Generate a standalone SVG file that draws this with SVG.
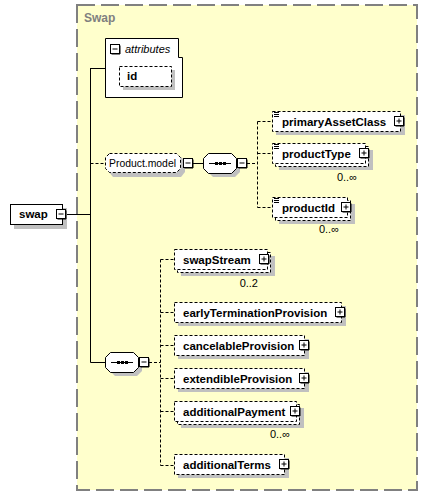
<svg xmlns="http://www.w3.org/2000/svg" width="428" height="496" viewBox="0 0 428 496">
<style>
.frame{fill:#FFFFCC;stroke:#808080;stroke-width:2;stroke-dasharray:18 6}
.sh{fill:#C0C0C0;stroke:none}
.box{fill:#FFFFFF;stroke:#000;stroke-width:1}
.opt{stroke-dasharray:3 2}
.ln{fill:none;stroke:#000;stroke-width:1}
.dl{fill:none;stroke:#000;stroke-width:1;stroke-dasharray:3 2}
.t{font-family:"Liberation Sans",Arial,sans-serif;font-size:11.5px;font-weight:bold;fill:#000}
.n{font-family:"Liberation Sans",Arial,sans-serif;font-size:11px;fill:#000}
.m{font-family:"Liberation Sans",Arial,sans-serif;font-size:11px;fill:#000;text-anchor:end}
.ic{fill:#FFFFFF;stroke:#000;stroke-width:1}
</style>
<defs>
<g id="plus"><rect x="0.5" y="0.5" width="9" height="9" class="ic"/><path d="M2.5 5H7.5M5 2.5V7.5" class="ln"/><path d="M10 1.5V10H1.5" class="ln"/></g>
<g id="minus"><rect x="0.5" y="0.5" width="9" height="9" class="ic"/><path d="M2.5 5H7.5" class="ln"/><path d="M10 1.5V10H1.5" class="ln"/></g>
<g id="lines"><path d="M0 0.5H5M0 2.5H5M0 4.5H5" class="ln"/></g>
</defs>

<g id="swap-frame">
<rect x="77" y="5" width="340" height="485" class="frame"/>
<text x="84" y="22" font-family="Liberation Sans,Arial,sans-serif" font-size="12" font-weight="bold" fill="#808080">Swap</text>
</g>

<g id="connectors">
<path d="M66 214.5H90.5M90.5 68V362.5M90.5 68.5H105M90.5 362.5H105" class="ln"/>
<path d="M90.5 163.5H105" class="dl"/>
<path d="M192 163.5H203" class="ln"/>
<path d="M247 163.5H257.5M257.5 121.5V207.5M257.5 121.5H272M257.5 153.5H272M257.5 207.5H272" class="dl"/>
<path d="M149 362.5H160.5M160.5 259.5V465.5M160.5 259.5H174M160.5 312.5H174M160.5 345.5H174M160.5 378.5H174M160.5 411.5H174M160.5 465.5H174" class="dl"/>
</g>

<g id="swap">
<rect x="14" y="208" width="53" height="21" class="sh"/>
<rect x="10.5" y="204.5" width="52" height="20" class="box"/>
<text x="19" y="218" class="t">swap</text>
<use href="#minus" x="56" y="209"/>
</g>

<g id="attributes">
<path d="M105.5 38.5H178.5V57.5H182.5V97.5H105.5Z" class="box"/>
<use href="#minus" x="110" y="44"/>
<text x="125" y="53" class="n" font-style="italic">attributes</text>
</g>

<g id="id">
<rect x="123" y="70" width="52" height="20" class="sh"/>
<rect x="119.5" y="66.5" width="52" height="20" class="box opt"/>
<text x="127" y="80" class="t">id</text>
</g>

<g id="product-model">
<path d="M113 157H181L185 161V172L181 177H113L109 172V161Z" class="sh"/>
<path d="M109.5 153.5H176.5L180.5 157.5V168.5L176.5 172.5H109.5L105.5 168.5V157.5Z" class="box opt"/>
<text x="109" y="167" class="n" textLength="67" lengthAdjust="spacingAndGlyphs">Product.model</text>
<use href="#minus" x="183" y="158"/>
</g>

<g id="sequence-1">
<path d="M213 157H235L240 162V172L235 177H213L208 172V162Z" class="sh"/>
<path d="M208.5 153.5H231.5L236.5 158.5V168.5L231.5 173.5H208.5L203.5 168.5V158.5Z" class="box"/>
<path d="M209 163.5H231" class="ln"/>
<rect x="215" y="162" width="3" height="3" fill="#000"/>
<rect x="219" y="162" width="3" height="3" fill="#000"/>
<rect x="223" y="162" width="3" height="3" fill="#000"/>
<use href="#minus" x="237" y="158"/>
</g>

<g id="primaryAssetClass">
<rect x="276" y="115" width="129" height="20" class="sh"/>
<rect x="272.5" y="111.5" width="128" height="20" class="box opt"/>
<use href="#lines" x="274" y="112"/>
<text x="282" y="125.5" class="t">primaryAssetClass</text>
<use href="#plus" x="394" y="116"/>
</g>

<g id="productType">
<rect x="279" y="150" width="94" height="20" class="sh"/>
<rect x="275.5" y="146.5" width="93" height="20" class="box opt"/>
<rect x="272.5" y="143.5" width="93" height="20" class="box opt"/>
<use href="#lines" x="274" y="144"/>
<text x="282" y="157.5" class="t">productType</text>
<use href="#plus" x="359" y="148"/>
<text x="357" y="181" class="m">0..∞</text>
</g>

<g id="productId">
<rect x="279" y="204" width="76" height="20" class="sh"/>
<rect x="275.5" y="200.5" width="75" height="20" class="box opt"/>
<rect x="272.5" y="197.5" width="75" height="20" class="box opt"/>
<use href="#lines" x="274" y="198"/>
<text x="282" y="211.5" class="t">productId</text>
<use href="#plus" x="341" y="202"/>
<text x="339" y="233" class="m">0..∞</text>
</g>

<g id="sequence-2">
<path d="M115 356H137L142 361V371L137 376H115L110 371V361Z" class="sh"/>
<path d="M110.5 352.5H133.5L138.5 357.5V367.5L133.5 372.5H110.5L105.5 367.5V357.5Z" class="box"/>
<path d="M111 362.5H133" class="ln"/>
<rect x="117" y="361" width="3" height="3" fill="#000"/>
<rect x="121" y="361" width="3" height="3" fill="#000"/>
<rect x="125" y="361" width="3" height="3" fill="#000"/>
<use href="#minus" x="139" y="357"/>
</g>

<g id="swapStream">
<rect x="181" y="256" width="94" height="20" class="sh"/>
<rect x="177.5" y="252.5" width="93" height="20" class="box opt"/>
<rect x="174.5" y="249.5" width="93" height="20" class="box opt"/>
<text x="183" y="263.5" class="t">swapStream</text>
<use href="#plus" x="259" y="254"/>
<text x="258" y="287" class="m">0..2</text>
</g>

<g id="earlyTerminationProvision">
<rect x="178" y="306" width="168" height="20" class="sh"/>
<rect x="174.5" y="302.5" width="167" height="20" class="box opt"/>
<text x="183" y="316.5" class="t">earlyTerminationProvision</text>
<use href="#plus" x="335" y="307"/>
</g>

<g id="cancelableProvision">
<rect x="178" y="339" width="131" height="20" class="sh"/>
<rect x="174.5" y="335.5" width="130" height="20" class="box opt"/>
<text x="183" y="349.5" class="t">cancelableProvision</text>
<use href="#plus" x="299" y="340"/>
</g>

<g id="extendibleProvision">
<rect x="178" y="372" width="131" height="20" class="sh"/>
<rect x="174.5" y="368.5" width="130" height="20" class="box opt"/>
<text x="183" y="382.5" class="t">extendibleProvision</text>
<use href="#plus" x="299" y="373"/>
</g>

<g id="additionalPayment">
<rect x="181" y="408" width="123" height="20" class="sh"/>
<rect x="177.5" y="404.5" width="122" height="20" class="box opt"/>
<rect x="174.5" y="401.5" width="122" height="20" class="box opt"/>
<text x="183" y="415.5" class="t">additionalPayment</text>
<use href="#plus" x="290" y="406"/>
<text x="290" y="438" class="m">0..∞</text>
</g>

<g id="additionalTerms">
<rect x="178" y="458" width="111" height="20" class="sh"/>
<rect x="174.5" y="454.5" width="110" height="20" class="box opt"/>
<text x="183" y="468.5" class="t">additionalTerms</text>
<use href="#plus" x="279" y="459"/>
</g>
</svg>
